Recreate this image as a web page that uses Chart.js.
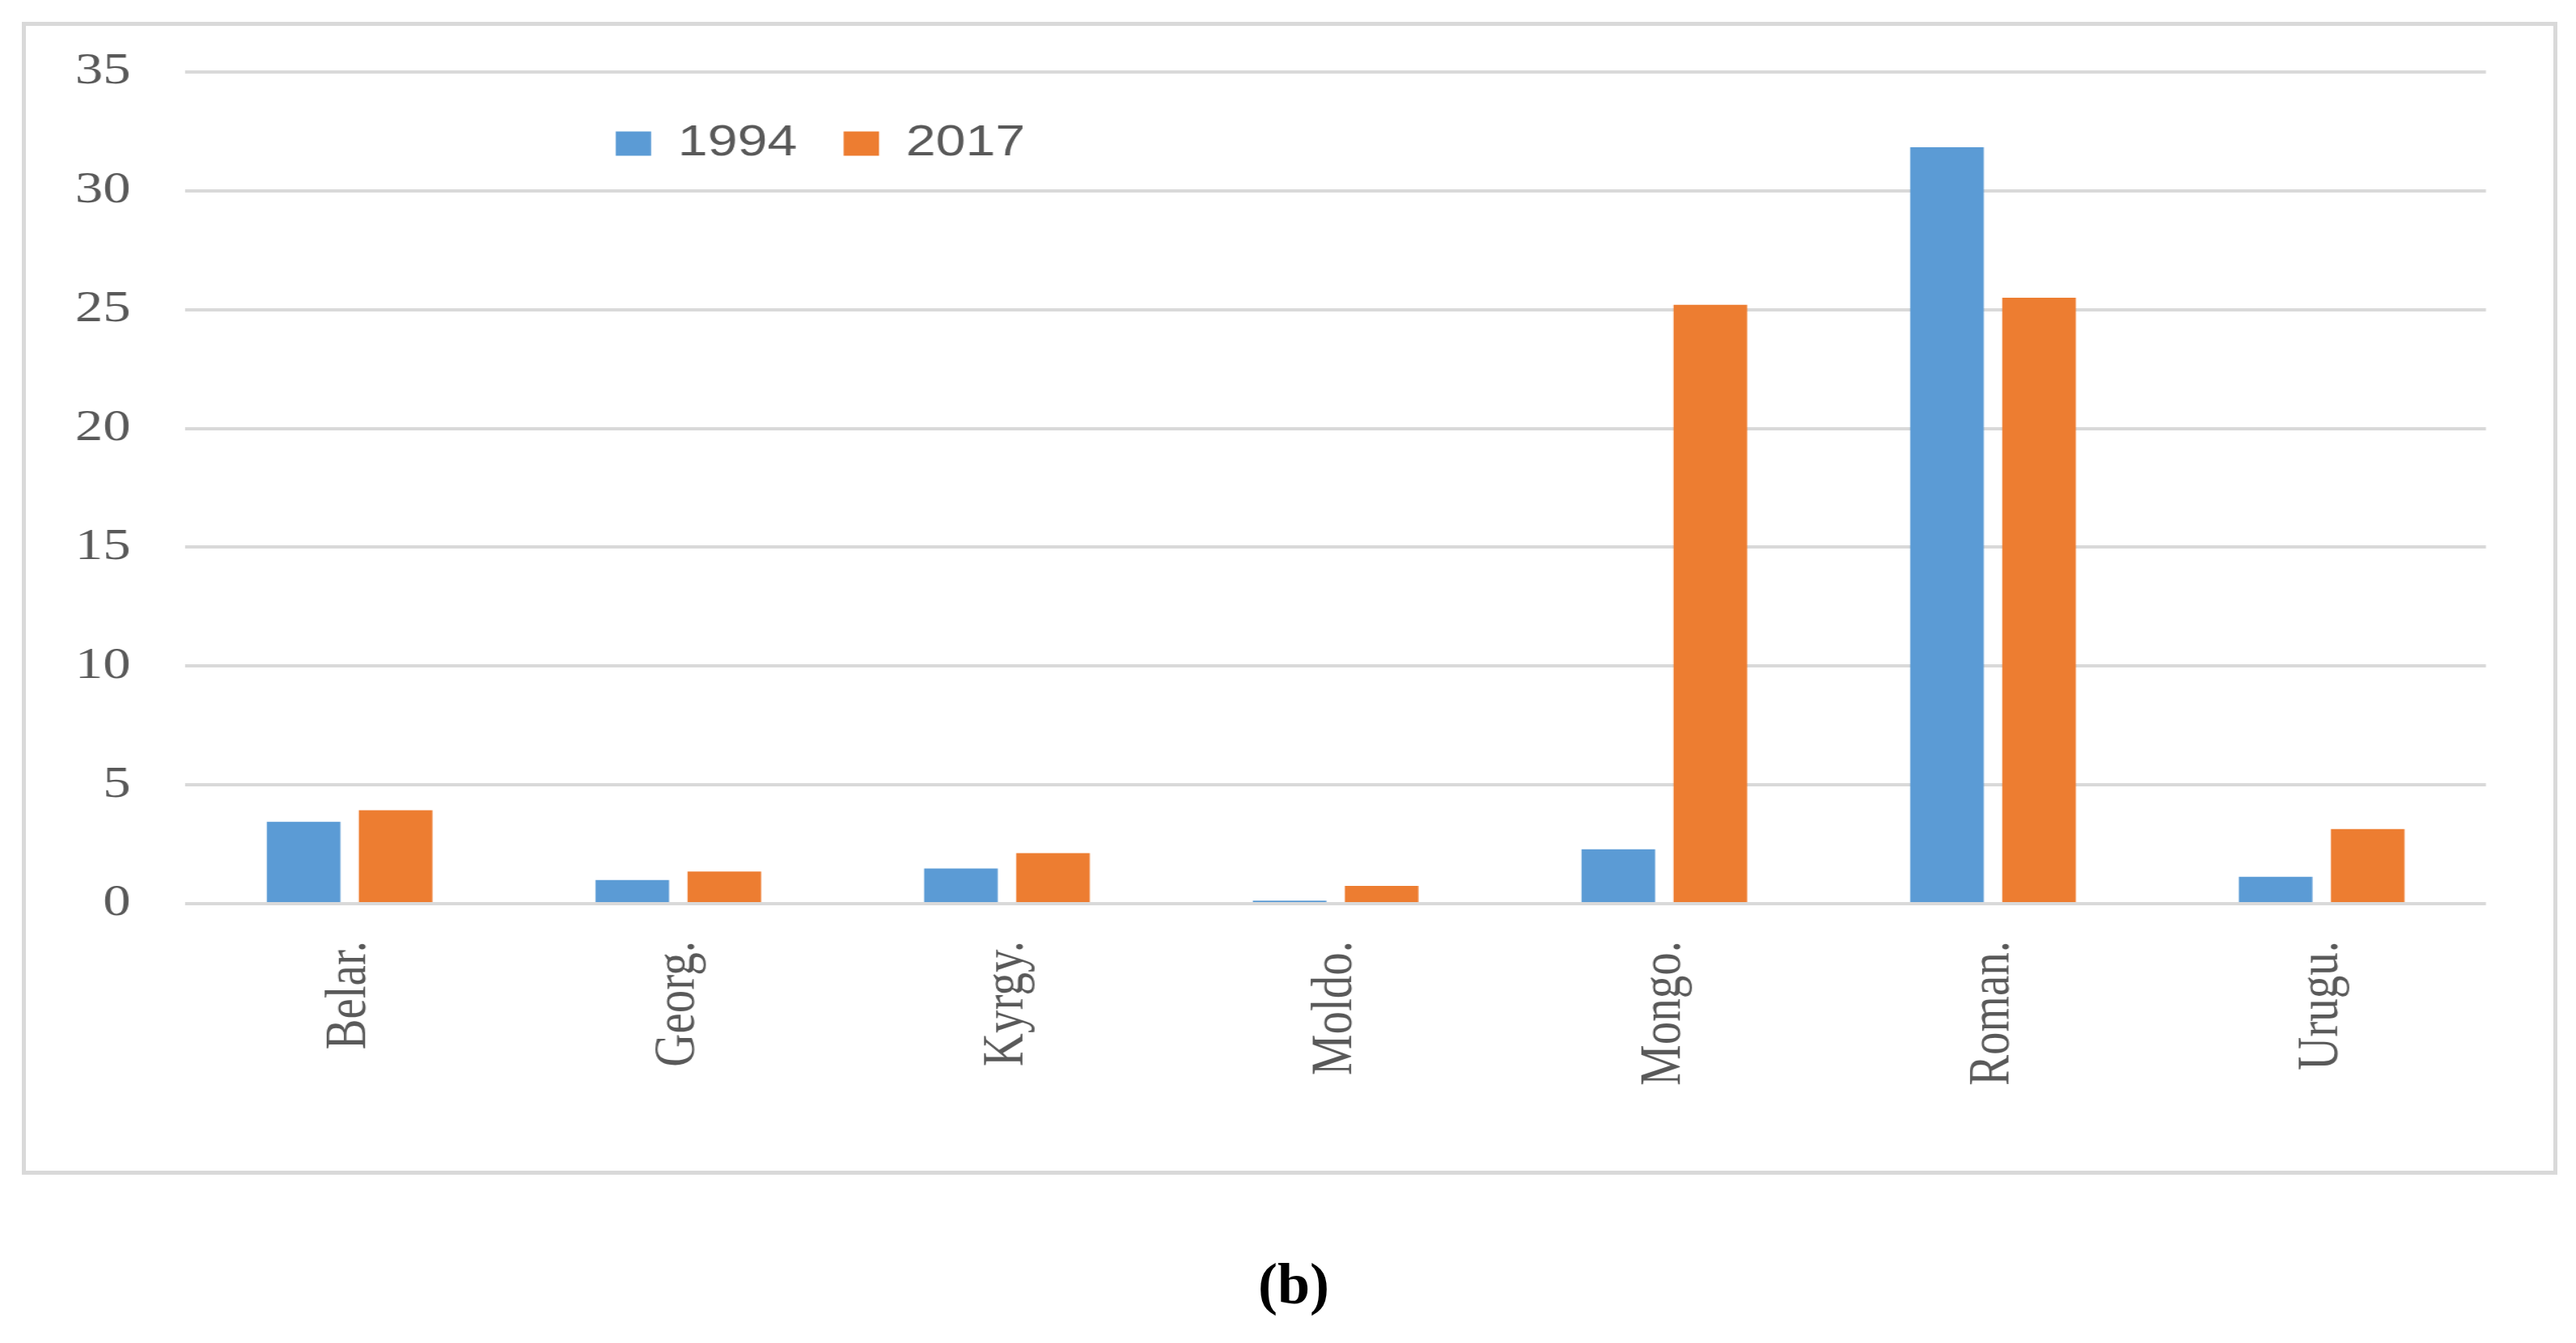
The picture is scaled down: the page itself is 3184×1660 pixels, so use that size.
<!DOCTYPE html>
<html>
<head>
<meta charset="utf-8">
<title>1994 vs 2017</title>
<script src="https://cdn.jsdelivr.net/npm/chart.js@4.4.0/dist/chart.umd.min.js"></script>
<style>
   html, body { margin: 0; padding: 0; background: #fff; }
   body { width: 3184px; height: 1660px; position: relative; overflow: hidden; }
   #frame { position: absolute; left: 27px; top: 27px; width: 3134px; height: 1425px; border: 5px solid #d9d9d9; box-sizing: border-box; }
   /* the source figure is stretched sideways, so draw narrow and scale up */
   #wrap { position: absolute; left: 0; top: 0; width: 2547px; height: 1660px; transform: scaleX(1.25); transform-origin: 0 0; }
   #caption { position: absolute; top: 1551px; left: 1599px; transform: translateX(-50%); font: bold 72px "Liberation Serif", serif; line-height: 72px; color: #000; }
</style>
</head>
<body>
<div id="frame"></div>
<div id="wrap"><canvas id="chart" width="2547" height="1660" style="width:2547px;height:1660px"></canvas></div>
<div id="caption">(b)</div>
<script>
const countries = ['Belar.', 'Georg.', 'Kyrgy.', 'Moldo.', 'Mongo.', 'Roman.', 'Urugu.'];
const years = ['1994', '2017'];
const values_1994 = [3.45, 1.0, 1.48, 0.13, 2.29, 31.83, 1.13];
const values_2017 = [3.93, 1.35, 2.13, 0.75, 25.2, 25.5, 3.14];
const y_ticks = [0, 5, 10, 15, 20, 25, 30, 35];

const STRETCH = 1.25;
const text_gray = '#595959';
const grid_gray = '#d9d9d9';

// legend sits inside the plot, between the 35 and 30 lines
const legend_pos = {
   id: 'legend_pos',
   afterLayout(chart) {
      let lg = chart.legend;
      let pad = lg.options.labels.padding;
      lg.left = 761 / STRETCH - pad;
      lg.top = 151 - pad;
      // legend clips to its own box, so give it room again
      lg.bottom = lg.top + 2 * pad + 80;
      lg.width = lg.right - lg.left;
      lg.height = lg.bottom - lg.top;
   },
};

var ctx = document.getElementById('chart');
var chart = new Chart(ctx, {
   type: 'bar',
   data: {
      labels: countries,
      datasets: [
         {
            label: years[0],
            data: values_1994,
            backgroundColor: '#5b9bd5',
            borderWidth: 0,
            categoryPercentage: 0.56,
            barPercentage: 0.8,
         },
         {
            label: years[1],
            data: values_2017,
            backgroundColor: '#ed7d31',
            borderWidth: 0,
            categoryPercentage: 0.56,
            barPercentage: 0.8,
         },
      ],
   },
   options: {
      responsive: false,
      animation: false,
      layout: { padding: { top: 88, right: 88.8, left: 0, bottom: 0 } },
      scales: {
         x: {
            grid: { display: false },
            border: { display: false },
            ticks: {
               color: text_gray,
               font: { family: '"Liberation Serif", serif', size: 57 },
               minRotation: 90,
               maxRotation: 90,
               autoSkip: false,
               padding: 38,
            },
            afterFit: (scale) => { scale.height = 1660 - 1117; },
         },
         y: {
            min: 0,
            max: 35,
            grid: { color: grid_gray, lineWidth: 4, drawTicks: false },
            border: { display: false },
            ticks: {
               color: text_gray,
               font: { family: '"Liberation Serif", serif', size: 55 },
               padding: 54,
            },
            afterBuildTicks: (scale) => {
               scale.ticks = y_ticks.map((v) => ({ value: v }));
            },
            afterFit: (scale) => { scale.width = 229 / STRETCH; },
         },
      },
      plugins: {
         legend: {
            position: 'top',
            align: 'start',
            maxHeight: 1,
            labels: {
               color: text_gray,
               font: { family: '"Liberation Sans", sans-serif', size: 53 },
               boxWidth: 35,
               boxHeight: 30,
               padding: 46,
            },
         },
         tooltip: { enabled: false },
      },
   },
   plugins: [legend_pos],
});
</script>
</body>
</html>
